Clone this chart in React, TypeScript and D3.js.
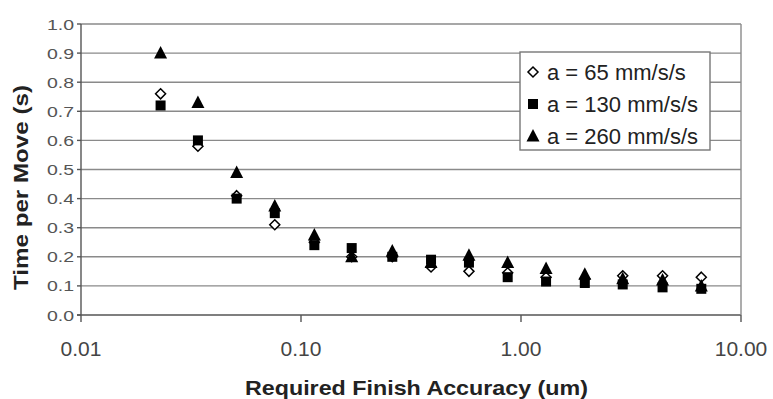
import React from "react";
import * as d3 from "d3";

const accuracy = [0.023, 0.034, 0.051, 0.076, 0.115, 0.17, 0.26, 0.39, 0.58, 0.87, 1.3, 1.95, 2.9, 4.4, 6.6];
const a65 = [0.76, 0.58, 0.41, 0.31, 0.25, 0.2, 0.2, 0.165, 0.15, 0.145, 0.13, 0.125, 0.135, 0.135, 0.13];
const a130 = [0.72, 0.6, 0.4, 0.35, 0.24, 0.23, 0.2, 0.19, 0.18, 0.13, 0.115, 0.11, 0.105, 0.095, 0.09];
const a260 = [0.9, 0.73, 0.49, 0.375, 0.275, 0.2, 0.22, 0.18, 0.205, 0.18, 0.16, 0.14, 0.125, 0.12, 0.1];
const seriesNames = ["a = 65 mm/s/s", "a = 130 mm/s/s", "a = 260 mm/s/s"];
const xTicks = [0.01, 0.1, 1, 10];
const yTicks = [0, 0.1, 0.2, 0.3, 0.4, 0.5, 0.6, 0.7, 0.8, 0.9, 1.0];

const W = 773, H = 399;
const L = 81, R = 741, T = 24, B = 315;

function Marker({ kind, x, y }: { kind: number; x: number; y: number }) {
  if (kind === 0) {
    const p = d3.symbol(d3.symbolDiamond2, 64)();
    return <path d={p as string} transform={`translate(${x},${y})`} fill="white" stroke="black" strokeWidth={1.5} />;
  }
  if (kind === 1) {
    return <rect x={x - 5} y={y - 5} width={10} height={10} fill="black" />;
  }
  return <path d={`M${x},${y - 7}L${x + 6.5},${y + 5.5}L${x - 6.5},${y + 5.5}Z`} fill="black" />;
}

export default function App() {
  const x = d3.scaleLog().domain([0.01, 10]).range([L, R]);
  const y = d3.scaleLinear().domain([0, 1]).range([B, T]);
  const series = [a65, a130, a260];
  const font = "Liberation Sans, Arial, sans-serif";
  return (
    <svg width={W} height={H} style={{ position: "absolute", left: 0, top: 0, background: "white" }} fontFamily={font}>
      <rect width={W} height={H} fill="white" />
      {yTicks.map((t) => (
        <g key={t}>
          <line x1={t === 0 ? 77 : L} x2={R} y1={y(t)} y2={y(t)} stroke={t === 0 ? "#555" : "#8a8a8a"} strokeWidth={1.4} />
          <line x1={77} x2={L} y1={y(t)} y2={y(t)} stroke="#555" strokeWidth={1.4} />
          <text transform={`translate(74,${y(t) + 5.5}) scale(1.3,1)`} textAnchor="end" fontSize={15} fill="#555">
            {d3.format(".1f")(t)}
          </text>
        </g>
      ))}
      <line x1={L} x2={L} y1={T} y2={B} stroke="#555" strokeWidth={1.4} />
      <line x1={R} x2={R} y1={T} y2={B} stroke="#8a8a8a" strokeWidth={1.4} />
      {xTicks.map((t) => (
        <g key={t}>
          <line x1={x(t)} x2={x(t)} y1={B} y2={B + 7} stroke="#555" strokeWidth={1.4} />
          <text x={x(t)} y={356} textAnchor="middle" fontSize={21} fill="#444">
            {d3.format(".2f")(t)}
          </text>
        </g>
      ))}
      {series.map((s, k) => (
        <g key={k}>
          {s.map((v, i) => (
            <Marker key={i} kind={k} x={x(accuracy[i])} y={y(v)} />
          ))}
        </g>
      ))}
      <g>
        <rect x={520} y={52} width={190} height={98} fill="white" stroke="#777" strokeWidth={1.4} />
        {seriesNames.map((n, k) => (
          <g key={n}>
            <Marker kind={k} x={533} y={72 + k * 32} />
            <text x={547} y={72 + k * 32 + 7.5} fontSize={22} fill="#222">
              {n}
            </text>
          </g>
        ))}
      </g>
      <text x={245} y={395} textLength={343} lengthAdjust="spacingAndGlyphs" fontSize={21} fontWeight="bold" fill="#222">
        Required Finish Accuracy (um)
      </text>
      <text transform="translate(28,290) rotate(-90)" textLength={205} lengthAdjust="spacingAndGlyphs" fontSize={20} fontWeight="bold" fill="#222">
        Time per Move (s)
      </text>
    </svg>
  );
}
